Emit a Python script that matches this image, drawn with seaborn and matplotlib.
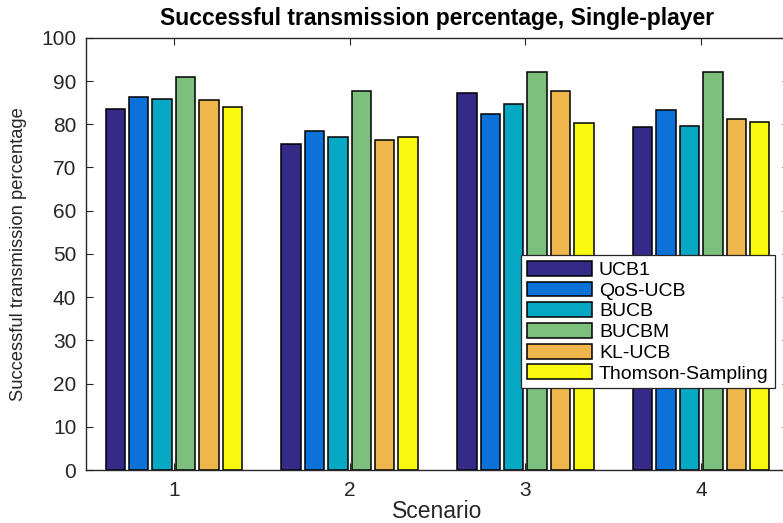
import matplotlib
matplotlib.use("Agg")
import matplotlib.pyplot as plt
import seaborn as sns
import pandas as pd

# Successful transmission percentage per scenario, one list per algorithm
scenarios = ["1", "2", "3", "4"]
ucb1 = [83.5, 75.4, 87.3, 79.3]
qos_ucb = [86.3, 78.4, 82.3, 83.3]
bucb = [85.9, 77.0, 84.7, 79.5]
bucbm = [91.0, 87.6, 92.2, 92.1]
kl_ucb = [85.6, 76.4, 87.6, 81.1]
thomson = [84.0, 77.0, 80.2, 80.6]

algorithms = ["UCB1", "QoS-UCB", "BUCB", "BUCBM", "KL-UCB", "Thomson-Sampling"]
series = [ucb1, qos_ucb, bucb, bucbm, kl_ucb, thomson]
colors = ["#352a87", "#0b72da", "#06a8c3", "#7dbf7c", "#efb64b", "#f9f90f"]

rows = []
for name, vals in zip(algorithms, series):
    for sc, v in zip(scenarios, vals):
        rows.append({"Scenario": sc, "Algorithm": name, "Value": v})
df = pd.DataFrame(rows)

sns.set_theme(style="ticks")
plt.rcParams["font.family"] = ["Liberation Sans", "DejaVu Sans"]
axis_color = "#262626"

fig = plt.figure(figsize=(7.83, 5.23), dpi=100)
W, H = 783, 523
left, right, top, bottom = 86, 789, 37.8, 470
ax = fig.add_axes([left / W, 1 - bottom / H, (right - left) / W, (bottom - top) / H])

sns.barplot(data=df, x="Scenario", y="Value", hue="Algorithm",
            order=scenarios, hue_order=algorithms, palette=colors,
            saturation=1, errorbar=None, width=0.8, gap=0.17,
            edgecolor="black", linewidth=1.1, ax=ax)

ax.set_ylim(0, 100)
ax.set_xlim(-0.5, 3.5)
ax.set_yticks(range(0, 101, 10))

for side in ["left", "right", "top", "bottom"]:
    ax.spines[side].set_visible(True)
    ax.spines[side].set_color(axis_color)
    ax.spines[side].set_linewidth(1.0)
ax.tick_params(axis="both", which="both", direction="in", length=5, width=0.8,
               color=axis_color, labelcolor=axis_color, labelsize=15,
               top=True, right=True)
ax.tick_params(axis="y", pad=7)
ax.tick_params(axis="x", pad=8)

ax.set_xlabel("Scenario", fontsize=16.5, color=axis_color, labelpad=0)
ax.set_ylabel("Successful transmission percentage", fontsize=13.2,
              color=axis_color, labelpad=10)
ax.set_title("Successful transmission percentage, Single-player",
             fontsize=16.5, fontweight="bold", color="black", pad=9)

handles, labels = ax.get_legend_handles_labels()
ax.get_legend().remove()
leg = ax.legend(handles, labels, loc="upper left",
                bbox_to_anchor=(521 / W, 1 - 255 / H),
                bbox_transform=fig.transFigure, borderaxespad=0,
                fontsize=14, frameon=True, fancybox=False, framealpha=1,
                edgecolor=axis_color, handlelength=3.35, handleheight=0.8,
                handletextpad=0.36, labelspacing=0.13, borderpad=0.3)
leg.get_frame().set_linewidth(0.9)
for t in leg.get_texts():
    t.set_color("black")

fig.savefig("out.png", dpi=100, facecolor="white")
